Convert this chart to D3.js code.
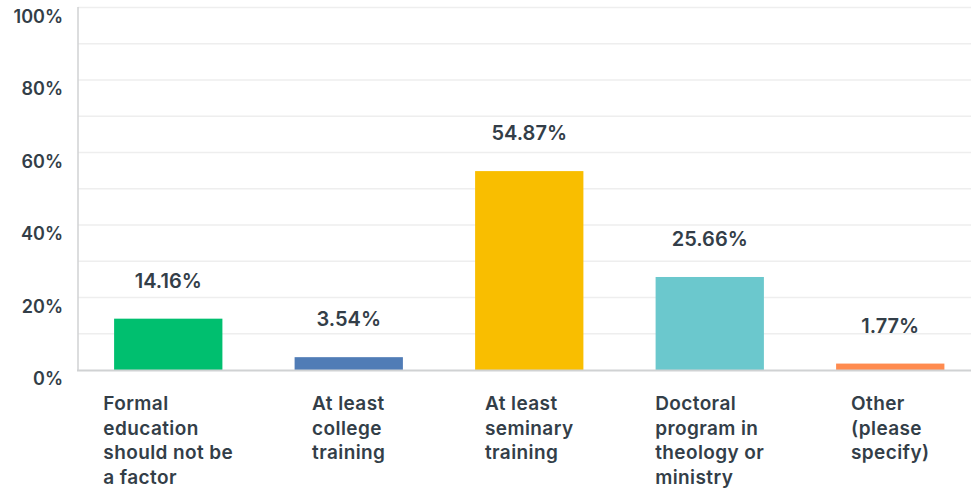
<!DOCTYPE html>
<html>
<head>
<meta charset="utf-8">
<script src="https://d3js.org/d3.v7.min.js"></script>
<style>
  body { margin: 0; background: #fff; }
  text { font-family: "Inter", "Open Sans", sans-serif; fill: #333e48; }
</style>
</head>
<body>
<div id="chart"></div>
<script>
// answer choices, one text line per entry
var categories = [
  ["Formal", "education", "should not be", "a factor"],
  ["At least", "college", "training"],
  ["At least", "seminary", "training"],
  ["Doctoral", "program in", "theology or", "ministry"],
  ["Other", "(please", "specify)"]
];
var values = [14.16, 3.54, 54.87, 25.66, 1.77];
var colors = ["#00bf6f", "#507cb6", "#f9be00", "#6bc8cd", "#ff8b4f"];
var yTicks = [0, 20, 40, 60, 80, 100];

var width = 971, height = 491;

var svg = d3.select("#chart").append("svg")
    .attr("width", width)
    .attr("height", height);

var x = d3.scaleBand()
    .domain(d3.range(values.length))
    .range([78, 980.5])
    .paddingInner(0.4)
    .paddingOuter(0.2);

var y = d3.scaleLinear()
    .domain([0, 100])
    .range([370, 7.5]);

// gridlines every 10%
svg.append("g")
    .selectAll("line")
    .data(d3.range(10, 101, 10))
    .join("line")
      .attr("x1", 78)
      .attr("x2", width)
      .attr("y1", d => y(d))
      .attr("y2", d => y(d))
      .attr("stroke", "#eeeeee")
      .attr("stroke-width", 1.5);

// y labels
svg.append("g")
    .attr("font-size", 18)
    .attr("font-weight", 600)
    .attr("text-anchor", "end")
  .selectAll("text")
  .data(yTicks)
  .join("text")
    .attr("x", 63)
    .attr("y", d => y(d) + 15)
    .text(d => d + "%");

// bars
svg.append("g")
  .selectAll("rect")
  .data(values)
  .join("rect")
    .attr("x", (d, i) => x(i))
    .attr("width", x.bandwidth())
    .attr("y", d => y(d))
    .attr("height", d => y(0) - y(d))
    .attr("fill", (d, i) => colors[i]);

// axes lines
svg.append("line")
    .attr("x1", 78).attr("x2", 78)
    .attr("y1", 7).attr("y2", 370)
    .attr("stroke", "#d0d2d3").attr("stroke-width", 1.5);
svg.append("line")
    .attr("x1", 77).attr("x2", width)
    .attr("y1", 370.5).attr("y2", 370.5)
    .attr("stroke", "#d0d2d3").attr("stroke-width", 2);

// value labels
svg.append("g")
    .attr("font-size", 20)
    .attr("font-weight", 600)
    .attr("text-anchor", "middle")
  .selectAll("text")
  .data(values)
  .join("text")
    .attr("x", (d, i) => x(i) + x.bandwidth() / 2)
    .attr("y", d => y(d) - 31)
    .text(d => d.toFixed(2) + "%");

// category labels: left aligned block, centered under the bar
var cat = svg.append("g")
    .attr("font-size", 19)
    .attr("font-weight", 600)
    .attr("letter-spacing", 0.4)
  .selectAll("text")
  .data(categories)
  .join("text")
    .attr("x", 0)
    .attr("y", 410);

cat.selectAll("tspan")
  .data(d => d)
  .join("tspan")
    .attr("x", 0)
    .attr("dy", (d, i) => i ? 24.5 : 0)
    .text(d => d);

cat.each(function(d, i) {
  var w = this.getBBox().width;
  var left = x(i) + x.bandwidth() / 2 - w / 2;
  d3.select(this).selectAll("tspan").attr("x", left);
});
</script>
</body>
</html>
